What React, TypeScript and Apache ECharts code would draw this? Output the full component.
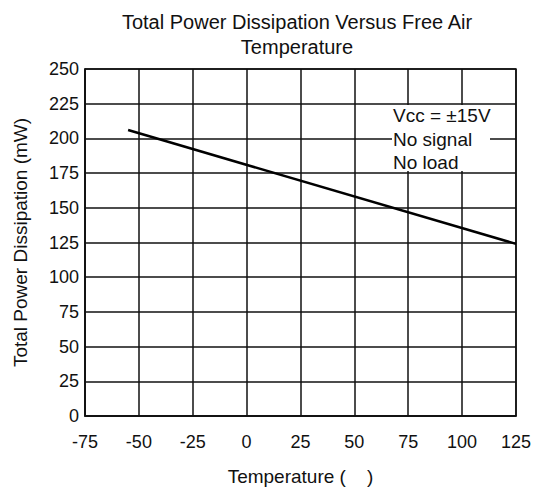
import React, { useEffect, useRef } from "react";
import * as echarts from "echarts";

const titleLines = ["Total Power Dissipation Versus Free Air", "Temperature"];
const xAxisName = "Temperature (    )";
const yAxisName = "Total Power Dissipation (mW)";
const temperatures = [-55, 125];
const powerMw = [206, 124];
const noteLines = ["Vcc = ±15V", "No signal", "No load"];

const FONT = "'Liberation Sans', Arial, sans-serif";
const INK = "#111";

export default function App() {
  const ref = useRef<HTMLDivElement>(null);
  useEffect(() => {
    if (!ref.current) return;
    const chart = echarts.init(ref.current, undefined, { renderer: "svg" });
    chart.setOption({
      animation: false,
      backgroundColor: "#fff",
      textStyle: { fontFamily: FONT },
      title: {
        text: titleLines.join("\n"),
        left: 292,
        top: 4,
        textAlign: "center",
        textStyle: {
          fontFamily: FONT,
          fontSize: 20,
          fontWeight: "normal",
          color: INK,
          lineHeight: 25,
        },
      },
      grid: {
        left: 85,
        right: 14,
        top: 69,
        bottom: 76,
        show: true,
        borderColor: INK,
        borderWidth: 1.5,
        backgroundColor: "transparent",
      },
      xAxis: {
        type: "value",
        min: -75,
        max: 125,
        interval: 25,
        name: xAxisName,
        nameLocation: "middle",
        nameGap: 51,
        nameTextStyle: { fontFamily: FONT, fontSize: 19, color: INK },
        axisLine: { show: true, onZero: false, lineStyle: { color: INK, width: 1.5 } },
        axisTick: { show: false },
        axisLabel: { fontFamily: FONT, fontSize: 18, color: INK, margin: 17 },
        splitLine: { show: true, lineStyle: { color: INK, width: 1.5 } },
      },
      yAxis: {
        type: "value",
        min: 0,
        max: 250,
        interval: 25,
        name: yAxisName,
        nameLocation: "middle",
        nameGap: 55,
        nameTextStyle: { fontFamily: FONT, fontSize: 19, color: INK },
        axisLine: { show: true, onZero: false, lineStyle: { color: INK, width: 1.5 } },
        axisTick: { show: false },
        axisLabel: { fontFamily: FONT, fontSize: 18, color: INK, margin: 6 },
        splitLine: { show: true, lineStyle: { color: INK, width: 1.5 } },
      },
      series: [
        {
          type: "line",
          data: temperatures.map((t, i) => [t, powerMw[i]]),
          symbol: "none",
          lineStyle: { color: "#000", width: 2.5 },
          z: 3,
        },
      ],
      graphic: [
        {
          type: "rect",
          left: 392,
          top: 105,
          z: 100,
          shape: { x: 0, y: 0, width: 98, height: 66 },
          style: { fill: "#fff" },
        },
        {
          type: "text",
          left: 393,
          top: 104,
          z: 101,
          style: {
            text: noteLines.join("\n"),
            font: `19px ${FONT}`,
            fill: INK,
            lineHeight: 23.5,
          },
        },
      ],
    });
    return () => chart.dispose();
  }, []);
  return (
    <div
      ref={ref}
      style={{ position: "fixed", left: 0, top: 0, width: 534, height: 492 }}
    />
  );
}
